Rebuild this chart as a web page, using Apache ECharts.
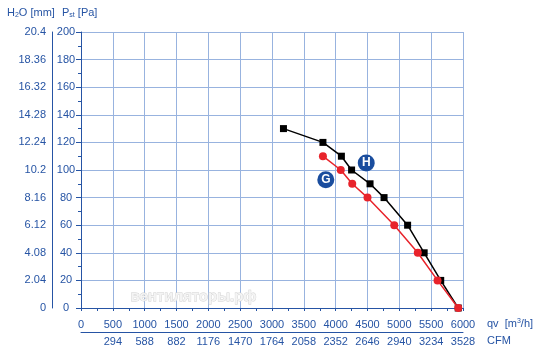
<!DOCTYPE html>
<html><head><meta charset="utf-8">
<script src="https://cdn.jsdelivr.net/npm/echarts@6/dist/echarts.min.js"></script>
<style>html,body{margin:0;padding:0;background:#fff}#c{width:541px;height:361px}</style>
</head><body><div id="c"></div>
<script>
const qvTicks = ['0','500','1000','1500','2000','2500','3000','3500','4000','4500','5000','5500','6000'];
const cfmTicks = ['','294','588','882','1176','1470','1764','2058','2352','2646','2940','3234','3528'];
const paTicks = ['0','20','40','60','80','100','120','140','160','180','200'];
const h2oTicks = ['0','2.04','4.08','6.12','8.16','10.2','12.24','14.28','16.32','18.36','20.4'];
const seriesH = [[3180,130],[3800,120],[4090,110],[4250,100],[4540,90],[4760,80],[5130,60],[5390,40],[5650,20],[5925,0]];
const seriesG = [[3800,110],[4080,100],[4260,90],[4500,80],[4920,60],[5290,40],[5600,20],[5925,0]];
const labelH = ['H', 4480, 105];
const labelG = ['G', 3845, 93];

const blue = '#2654a4';
const gridC = '#98b3df';
const font = 'Liberation Sans';
const chart = echarts.init(document.getElementById('c'), null, {renderer:'canvas'});
const idx = v => Math.round(v/20);
chart.setOption({
  animation:false,
  grid:{left:81,right:78,top:32,bottom:53},
  textStyle:{fontFamily:font},
  xAxis:[{
    type:'value',min:0,max:6000,interval:500,position:'bottom',
    axisLine:{onZero:false,lineStyle:{color:blue,width:1}},
    axisTick:{show:true,length:3,lineStyle:{color:blue}},
    minorTick:{show:true,splitNumber:2,length:3,lineStyle:{color:blue}},
    splitLine:{show:true,lineStyle:{color:gridC,width:1}},
    axisLabel:{color:blue,fontSize:11,fontFamily:font,margin:11,formatter:v=>qvTicks[Math.round(v/500)]}
  },{
    type:'value',min:0,max:6000,interval:500,position:'bottom',offset:24,
    axisLine:{onZero:false,lineStyle:{color:blue,width:1}},
    axisTick:{show:false},splitLine:{show:false},
    axisLabel:{color:blue,fontSize:11,fontFamily:font,margin:4,formatter:v=>cfmTicks[Math.round(v/500)]}
  }],
  yAxis:[{
    type:'value',min:0,max:200,interval:20,position:'left',
    axisLine:{onZero:false,lineStyle:{color:blue,width:1}},
    axisTick:{show:true,length:5,lineStyle:{color:blue}},
    minorTick:{show:true,splitNumber:2,length:3,lineStyle:{color:blue}},
    splitLine:{show:true,lineStyle:{color:gridC,width:1}},
    axisLabel:{color:blue,fontSize:11,fontFamily:font,margin:15,align:'center',formatter:v=>paTicks[idx(v)]}
  },{
    type:'value',min:0,max:200,interval:20,position:'left',offset:29,
    axisLine:{show:true,onZero:false,lineStyle:{color:blue,width:1}},
    axisTick:{show:false},splitLine:{show:false},
    axisLabel:{color:blue,fontSize:11,fontFamily:font,margin:6,formatter:v=>h2oTicks[idx(v)]}
  }],
  series:[{
    type:'line',name:'H',data:seriesH,xAxisIndex:0,yAxisIndex:0,
    symbol:'rect',symbolSize:7,itemStyle:{color:'#000'},lineStyle:{color:'#000',width:1.5},
    z:3,
    markPoint:{symbol:'circle',symbolSize:17,itemStyle:{color:'#1a4d9e'},
      label:{show:true,color:'#fff',fontSize:12,fontWeight:'bold',fontFamily:font,formatter:p=>p.name},
      data:[{name:labelH[0],coord:[labelH[1],labelH[2]]},{name:labelG[0],coord:[labelG[1],labelG[2]]}]}
  },{
    type:'line',name:'G',data:seriesG,xAxisIndex:0,yAxisIndex:0,
    symbol:'circle',symbolSize:8,itemStyle:{color:'#e8232b'},lineStyle:{color:'#e8232b',width:1.5},
    z:4
  }],
  graphic:[
    {type:'text',left:7,top:7,style:{rich:{a:{fontSize:11,fill:blue,fontFamily:font},s:{fontSize:7,fill:blue,fontFamily:font,padding:[5,0,0,0]}},
      text:'{a|H}{s|2}{a|O [mm]}',fill:blue}},
    {type:'text',left:62,top:7,style:{rich:{a:{fontSize:11,fill:blue,fontFamily:font},s:{fontSize:7,fill:blue,fontFamily:font,padding:[5,0,0,0]}},
      text:'{a|P}{s|st}{a| [Pa]}',fill:blue}},
    {type:'text',left:487,top:318,style:{rich:{a:{fontSize:11,fill:blue,fontFamily:font},s:{fontSize:7,fill:blue,fontFamily:font,padding:[0,0,5,0]}},
      text:'{a|qv  [m}{s|3}{a|/h]}'}},
    {type:'text',left:487,top:335,style:{text:'CFM',fontSize:11,fill:blue,fontFamily:font}},
    {type:'text',left:130,top:289,z:1,style:{text:'вентиляторы.рф',fontSize:15,fontWeight:'bold',fill:'#f4f4f4',stroke:'#cfcfcf',lineWidth:0.8,fontFamily:font}}
  ]
});
</script></body></html>
